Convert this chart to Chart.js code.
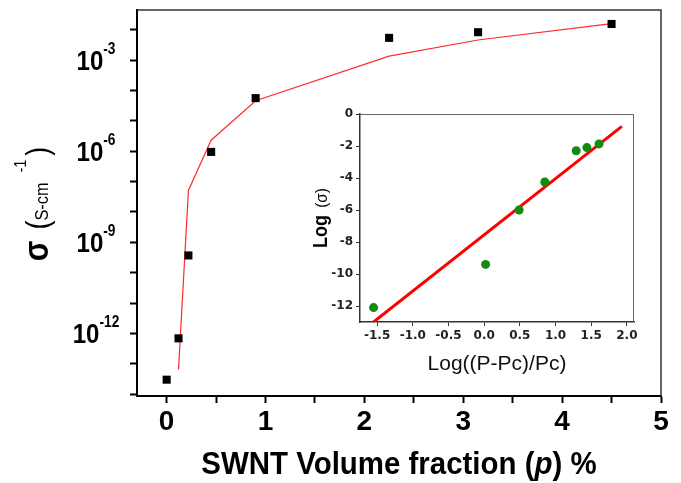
<!DOCTYPE html>
<html>
<head>
<meta charset="utf-8">
<script src="https://cdn.jsdelivr.net/npm/chart.js@4.4.0/dist/chart.umd.min.js"></script>
<style>
  html, body { margin: 0; padding: 0; background: #fff; }
  #wrap { position: relative; width: 681px; height: 483px; }
  #main { position: absolute; left: 0; top: 0; }
  #inset { position: absolute; left: 295px; top: 100px; }
</style>
</head>
<body>
<div id="wrap">
  <canvas id="main" width="681" height="483"></canvas>
  <canvas id="inset" width="360" height="285"></canvas>
</div>
<script>
// conductivity vs SWNT volume fraction (main plot)
const volumeFraction = [0, 0.12, 0.22, 0.45, 0.9, 2.25, 3.15, 4.5];
const conductivity = [3.0e-14, 6.9e-13, 3.7e-10, 9.5e-7, 5.6e-5, 5.4e-3, 8.3e-3, 1.55e-2];

// percolation fit evaluated at the measured fractions
const fitFraction = [0.12, 0.22, 0.45, 0.9, 2.25, 3.15, 4.5];
const fitConductivity = [6.5e-14, 5.1e-8, 2.3e-6, 4.6e-5, 1.35e-3, 4.6e-3, 1.6e-2];

const xTicks = [0, 0.5, 1, 1.5, 2, 2.5, 3, 3.5, 4, 4.5, 5];
const yDecades = [-14, -13, -12, -11, -10, -9, -8, -7, -6, -5, -4, -3, -2];
const yLabelDecades = [-12, -9, -6, -3];

// inset: log-log plot of the power law
const logReduced = [-1.55, 0.02, 0.49, 0.85, 1.29, 1.44, 1.61];
const logSigma = [-12.1, -9.4, -6.0, -4.25, -2.3, -2.1, -1.87];
const fitLineX = [-1.55, 1.93];
const fitLineY = [-13.0, -0.77];
const insetXTicks = [-1.5, -1.0, -0.5, 0.0, 0.5, 1.0, 1.5, 2.0];
const insetYTicks = [-12, -10, -8, -6, -4, -2, 0];

const FONT = '"Liberation Sans", Arial, sans-serif';
const SQUEEZE = 0.86;

function runWidth(ctx, parts) {
  let w = 0;
  parts.forEach(p => { ctx.font = p.font; w += ctx.measureText(p.text).width + (p.gap || 0); });
  return w;
}

// draws a row of text pieces (mixed fonts / raised superscripts) squeezed horizontally
function drawRun(ctx, parts, x, y, sx, align, angle) {
  ctx.save();
  ctx.translate(x, y);
  if (angle) ctx.rotate(angle);
  ctx.scale(sx, 1);
  const w = runWidth(ctx, parts);
  let cx = align === 'center' ? -w / 2 : (align === 'right' ? -w : 0);
  ctx.textAlign = 'left';
  ctx.textBaseline = 'alphabetic';
  parts.forEach(p => {
    ctx.font = p.font;
    ctx.fillStyle = p.color || '#000';
    ctx.fillText(p.text, cx, p.dy || 0);
    cx += ctx.measureText(p.text).width + (p.gap || 0);
  });
  ctx.restore();
}

const mainDecor = {
  id: 'mainDecor',
  afterDraw(chart) {
    const ctx = chart.ctx;
    const a = chart.chartArea;
    const ys = chart.scales.y;

    // frame on top and right
    ctx.save();
    ctx.strokeStyle = '#333';
    ctx.lineWidth = 1.5;
    ctx.beginPath();
    ctx.moveTo(a.left, a.top);
    ctx.lineTo(a.right, a.top);
    ctx.lineTo(a.right, a.bottom);
    ctx.stroke();
    ctx.restore();

    // 10^n tick labels
    yLabelDecades.forEach(e => {
      const py = ys.getPixelForValue(Math.pow(10, e));
      drawRun(ctx, [
        { text: '10', font: 'bold 28px ' + FONT },
        { text: String(e), font: 'bold 16px ' + FONT, dy: -16 }
      ], 96, py + 10, SQUEEZE, 'center');
    });

    // y title: σ (S-cm^-1)
    drawRun(ctx, [
      { text: 'σ', font: 'bold 35px ' + FONT, gap: 13 },
      { text: '(', font: '31px ' + FONT },
      { text: 'S-cm', font: '19px ' + FONT, gap: 12 },
      { text: '-1', font: '16px ' + FONT, dy: -22, gap: 5 },
      { text: ')', font: '31px ' + FONT }
    ], 48, 204, SQUEEZE, 'center', -Math.PI / 2);

    // x title
    const tf = 'bold 32px ' + FONT;
    drawRun(ctx, [
      { text: 'SWNT Volume fraction (', font: tf },
      { text: 'p', font: 'italic ' + tf },
      { text: ') %', font: tf }
    ], (a.left + a.right) / 2, 474, 0.92, 'center');
  }
};

new Chart(document.getElementById('main'), {
  type: 'scatter',
  data: {
    datasets: [
      {
        data: fitFraction.map((x, i) => ({ x: x, y: fitConductivity[i] })),
        showLine: true,
        borderColor: '#ff2a2a',
        borderWidth: 1.2,
        pointRadius: 0,
        tension: 0,
        order: 2
      },
      {
        data: volumeFraction.map((x, i) => ({ x: x, y: conductivity[i] })),
        pointStyle: 'rect',
        pointRadius: 5.7,
        backgroundColor: '#000',
        borderColor: '#000',
        borderWidth: 0,
        order: 1
      }
    ]
  },
  options: {
    responsive: false,
    animation: false,
    layout: { padding: { top: 10, right: 20, left: 0, bottom: 0 } },
    plugins: { legend: { display: false }, tooltip: { enabled: false } },
    scales: {
      x: {
        type: 'linear',
        min: -0.3,
        max: 5,
        afterBuildTicks: s => { s.ticks = xTicks.map(v => ({ value: v })); },
        afterFit: s => { s.height = 87; },
        ticks: {
          font: { family: FONT, size: 28, weight: 'bold' },
          color: '#000',
          padding: 2,
          maxRotation: 0,
          autoSkip: false,
          callback: v => Number.isInteger(v) ? String(v) : ''
        },
        grid: { drawOnChartArea: false, tickLength: 7, tickWidth: 2, tickColor: '#000' },
        border: { width: 2, color: '#000' }
      },
      y: {
        type: 'logarithmic',
        min: Math.pow(10, -14.06),
        max: Math.pow(10, -1.35),
        afterBuildTicks: s => { s.ticks = yDecades.map(e => ({ value: Math.pow(10, e) })); },
        afterFit: s => { s.width = 137; },
        ticks: { display: false },
        grid: { drawOnChartArea: false, tickLength: 7, tickWidth: 2, tickColor: '#000' },
        border: { width: 2, color: '#000' }
      }
    }
  },
  plugins: [mainDecor]
});

const insetDecor = {
  id: 'insetDecor',
  afterDraw(chart) {
    const ctx = chart.ctx;
    const a = chart.chartArea;

    ctx.save();
    ctx.strokeStyle = '#666';
    ctx.lineWidth = 1;
    ctx.beginPath();
    ctx.moveTo(a.left, a.top + 0.5);
    ctx.lineTo(a.right - 0.5, a.top + 0.5);
    ctx.lineTo(a.right - 0.5, a.bottom);
    ctx.stroke();
    ctx.restore();

    drawRun(ctx, [
      { text: 'Log', font: 'bold 20px ' + FONT, gap: 8 },
      { text: '(σ)', font: '17px ' + FONT }
    ], 32, (a.top + a.bottom) / 2, 0.9, 'center', -Math.PI / 2);

    drawRun(ctx, [
      { text: 'Log((P-Pc)/Pc)', font: '21px ' + FONT, color: '#111' }
    ], (a.left + a.right) / 2, 270, 1, 'center');
  }
};

new Chart(document.getElementById('inset'), {
  type: 'scatter',
  data: {
    datasets: [
      {
        data: fitLineX.map((x, i) => ({ x: x, y: fitLineY[i] })),
        showLine: true,
        borderColor: '#ff0000',
        borderWidth: 3,
        pointRadius: 0,
        clip: 0,
        order: 2
      },
      {
        data: logReduced.map((x, i) => ({ x: x, y: logSigma[i] })),
        pointRadius: 4.5,
        backgroundColor: '#138a13',
        borderWidth: 0,
        order: 1
      }
    ]
  },
  options: {
    responsive: false,
    animation: false,
    layout: { padding: { top: 14, right: 21, left: 0, bottom: 0 } },
    plugins: { legend: { display: false }, tooltip: { enabled: false } },
    scales: {
      x: {
        type: 'linear',
        min: -1.74,
        max: 2.1,
        afterBuildTicks: s => { s.ticks = insetXTicks.map(v => ({ value: v })); },
        afterFit: s => { s.height = 63; },
        ticks: {
          font: { family: '"DejaVu Sans", Verdana, sans-serif', size: 12, weight: 'bold' },
          color: '#222',
          padding: 3,
          maxRotation: 0,
          autoSkip: false,
          callback: v => v.toFixed(1)
        },
        grid: { drawOnChartArea: false, tickLength: 4, tickWidth: 1, tickColor: '#333' },
        border: { width: 1.5, color: '#333' }
      },
      y: {
        type: 'linear',
        min: -13,
        max: 0,
        afterBuildTicks: s => { s.ticks = insetYTicks.map(v => ({ value: v })); },
        afterFit: s => { s.width = 65; },
        ticks: {
          font: { family: '"DejaVu Sans", Verdana, sans-serif', size: 12, weight: 'bold' },
          color: '#222',
          padding: 3,
          callback: v => String(v)
        },
        grid: { drawOnChartArea: false, tickLength: 4, tickWidth: 1, tickColor: '#333' },
        border: { width: 1.5, color: '#333' }
      }
    }
  },
  plugins: [insetDecor]
});
</script>
</body>
</html>
